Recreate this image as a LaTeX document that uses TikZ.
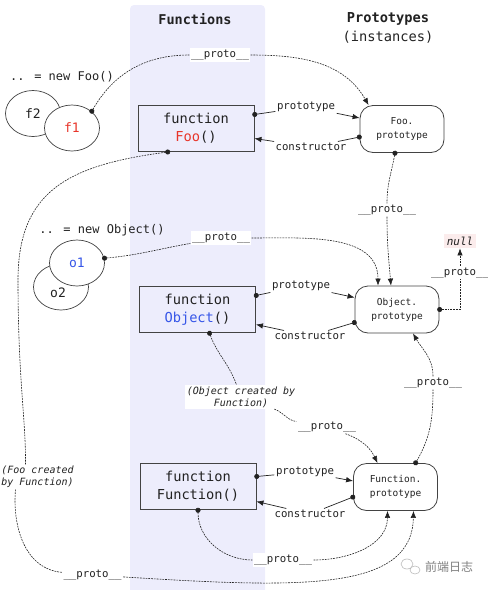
\documentclass[tikz,border=0pt]{standalone}
\usepackage{fontspec}
\setmainfont{DejaVu Sans Mono}
\newfontfamily\cjkfont{Noto Sans CJK SC}
\usepackage{tikz}
\usetikzlibrary{positioning}
\usetikzlibrary{shapes.geometric}
\usetikzlibrary{arrows.meta}
\definecolor{bandcol}{HTML}{EDEDFC}
\definecolor{fooRed}{HTML}{E8352A}
\definecolor{objBlue}{HTML}{3656E8}
\definecolor{nullBg}{HTML}{FBECEC}
\definecolor{ink}{HTML}{222222}

\begin{document}
\begin{tikzpicture}[x=1pt,y=-1pt,
	every node/.style={text=ink},
	fnbox/.style={draw=ink!85, line width=0.9pt, minimum width=116pt, minimum height=46pt, align=center, inner sep=2pt, font=\fontsize{13.7}{18}\selectfont},
	protobox/.style={draw=ink!85, line width=0.8pt, rounded corners=13pt, minimum width=84pt, minimum height=47pt, align=center, fill=white, font=\fontsize{9.5}{14}\selectfont},
	inst/.style={draw=ink!85, line width=0.7pt, ellipse, minimum width=55pt, minimum height=46pt, inner sep=0pt, fill=white, font=\fontsize{13}{15}\selectfont},
	lbl/.style={fill=white, inner sep=1.5pt, font=\fontsize{10.7}{12}\selectfont},
	note/.style={fill=white, inner sep=1.5pt, font=\fontsize{10}{12}\itshape},
	sline/.style={draw=ink, line width=0.7pt},
	dline/.style={draw=ink, line width=0.6pt, dash pattern=on 1.8pt off 1pt},
	dotstart/.style={{Circle[length=5pt]}-, shorten <=-2.2pt},
	tipend/.style={-{Latex[length=7pt,width=5.5pt]}},
	dottip/.style={{Circle[length=5pt]}-{Latex[length=7pt,width=5.5pt]}, shorten <=-2.2pt}
	]
		\useasboundingbox (0,0) rectangle (488,590);
		\fill [bandcol, rounded corners=4pt] (130,5) rectangle (265,600);
		\node [font=\bfseries\fontsize{13.5}{16}\selectfont] at (195,19) (hdrF) {Functions};
		\node [align=center, font=\fontsize{13.7}{19}\selectfont] at (388,27.5) (hdrP) {\textbf{Prototypes}\\(instances)};
		
		\node [font=\fontsize{12}{14}\selectfont] at (62,77) (newFoo) {.. = new Foo()};
		\node [inst] at (33,113.5) (f2) {f2};
		\node [inst] at (72,128) (f1) {\textcolor{fooRed}{f1}};
		\node [fnbox] at (196,128.5) (fooF) {function\\\textcolor{fooRed}{Foo}()};
		\node [protobox] at (402,129) (fooP) {Foo.\\prototype};
		\node [lbl] at (306,107) (lpF) {prototype};
		\node [lbl] at (311,147) (lcF) {constructor};
		\draw [sline, dotstart] ([yshift=14]fooF.east) -- (lpF);
		\draw [sline, tipend] (lpF) -- ([yshift=11]fooP.west);
		\draw [sline, dotstart] ([yshift=-8]fooP.west) -- (lcF);
		\draw [sline, tipend] (lcF) -- ([yshift=-10]fooF.east);
		\node [lbl] at (220,55) (lpFoo) {\_\_proto\_\_};
		\draw [dline, dotstart] (f1.40) to[out=60,in=180] (lpFoo);
		\draw [dline, tipend] (lpFoo) to[out=0,in=120] ([xshift=9]fooP.north west);
		
		\node [font=\fontsize{12}{14}\selectfont] at (102,230) (newObj) {.. = new Object()};
		\node [inst] at (61,287) (o2) {};
		\node [font=\fontsize{13}{15}\selectfont] at (58,293) (o2t) {o2};
		\node [inst] at (77,263) (o1) {\textcolor{objBlue}{o1}};
		\node [fnbox] at (197.5,309.5) (objF) {function\\\textcolor{objBlue}{Object}()};
		\node [protobox] at (397,309.5) (objP) {Object.\\prototype};
		\node [lbl] at (301,286) (lpO) {prototype};
		\node [lbl] at (310,336) (lcO) {constructor};
		\draw [sline, dotstart] ([yshift=14]objF.east) -- (lpO);
		\draw [sline, tipend] (lpO) -- ([yshift=12]objP.west);
		\draw [sline, dotstart] ([yshift=-13]objP.west) -- (lcO);
		\draw [sline, tipend] (lcO) -- ([yshift=-15]objF.east);
		\node [lbl] at (387,210) (lpFP) {\_\_proto\_\_};
		\draw [dline, dotstart] ([xshift=-7]fooP.south) to[out=-100,in=90] (lpFP);
		\draw [dline, tipend] (lpFP) to[out=-90,in=95] ([xshift=-6]objP.north);
		\node [lbl] at (221,238) (lpo1) {\_\_proto\_\_};
		\draw [dline, dotstart] (o1.10) to[out=5,in=190] (lpo1);
		\draw [dline, tipend] (lpo1) to[out=0,in=90] ([xshift=-19]objP.north);
		\node [fill=nullBg, inner sep=3pt, font=\fontsize{11}{13}\itshape] at (460,241) (nullN) {null};
		\draw [dline, dottip] (objP.east) -| (nullN.south) node [lbl, pos=0.8] (lpnull) {\_\_proto\_\_};
		
		\node [fnbox] at (198,486.5) (fnF) {function\\Function()};
		\node [protobox] at (395.5,487) (fnP) {Function.\\prototype};
		\node [lbl] at (305,472) (lpFn) {prototype};
		\node [lbl] at (310,514) (lcFn) {constructor};
		\draw [sline, dotstart] ([yshift=10]fnF.east) -- (lpFn);
		\draw [sline, tipend] (lpFn) -- ([yshift=6]fnP.west);
		\draw [sline, dotstart] ([yshift=-10]fnP.west) -- (lcFn);
		\draw [sline, tipend] (lcFn) -- ([yshift=-15]fnF.east);
		
		\node [note, align=center] at (241,397) (objNote) {(Object created by\\Function)};
		\node [lbl] at (327,427) (lpOF) {\_\_proto\_\_};
		\draw [dline, dotstart] ([xshift=12]objF.south) to[out=-70,in=110] (objNote);
		\draw [dline] (objNote) to[out=-20,in=170] (lpOF);
		\draw [dline, tipend] (lpOF) to[out=-20,in=115] ([xshift=-18]fnP.north);
		\node [lbl] at (433,383) (lpFnP) {\_\_proto\_\_};
		\draw [dline, dotstart] ([xshift=20]fnP.north) to[out=60,in=-90] (lpFnP);
		\draw [dline, tipend] (lpFnP) to[out=90,in=-60] ([xshift=16]objP.south);
		\node [lbl] at (283,560) (lpFn2) {\_\_proto\_\_};
		\draw [dline, dotstart] (fnF.south) to[out=-90,in=180] (lpFn2);
		\draw [dline, tipend] (lpFn2) to[out=0,in=-90] ([xshift=-8]fnP.south);
		
		\node [note, align=left] at (37.5,477) (fooNote) {(Foo created\\by Function)};
		\node [lbl] at (92.5,575) (lpFoo2) {\_\_proto\_\_};
		\draw [dline, dotstart] ([xshift=-28]fooF.south) .. controls (70,165) and (18,190) .. (18,280) .. controls (18,380) and (26,420) .. ([xshift=-12]fooNote.north);
		\draw [dline] ([xshift=-22]fooNote.south) to[out=-95,in=175] (lpFoo2);
		\draw [dline, tipend] (lpFoo2) .. controls (300,588) and (412,592) .. ([xshift=18]fnP.south);
		
		\draw [gray!55, line width=0.6pt] (407,564) ellipse (6 and 5) (415,570) ellipse (5 and 4);
		\node [text=gray, font=\cjkfont\fontsize{12}{14}\selectfont] at (449,567) (mark) {前端日志};
		
		\end{tikzpicture}
\end{document}
